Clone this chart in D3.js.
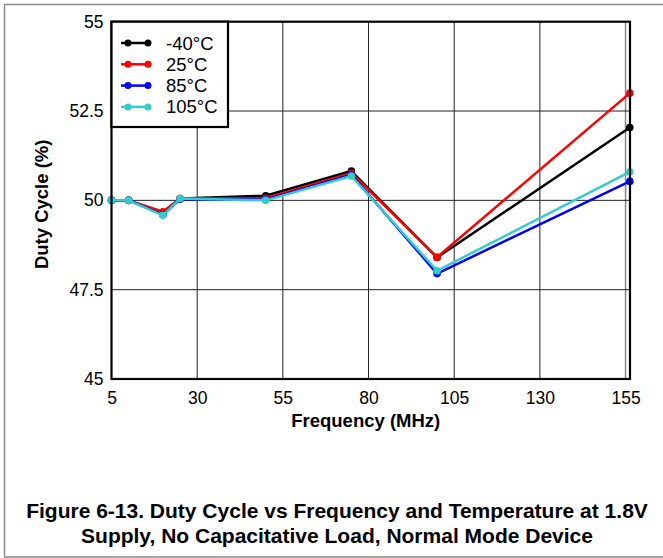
<!DOCTYPE html>
<html><head><meta charset="utf-8">
<script src="https://cdn.jsdelivr.net/npm/d3@7"></script>
<style>
html,body{margin:0;padding:0;background:#fff;}
svg{display:block;font-family:"Liberation Sans",Arial,sans-serif;}
</style></head>
<body>
<svg id="chart" width="663" height="558"></svg>
<script>
const frequencies = [5, 10, 20, 25, 50, 75, 100, 156.25];
const seriesNames = ["-40°C", "25°C", "85°C", "105°C"];
const seriesColors = ["#000000", "#ff0000", "#0000ff", "#33cccc"];
const valsM40 = [50.0, 50.0, 49.66, 50.05, 50.13, 50.82, 48.40, 52.04];
const vals25  = [50.0, 50.0, 49.68, 50.05, 50.06, 50.76, 48.41, 53.00];
const vals85  = [50.0, 50.0, 49.60, 50.03, 50.02, 50.72, 47.95, 50.53];
const vals105 = [50.0, 50.0, 49.58, 50.05, 50.00, 50.68, 48.03, 50.80];
const xTicks = [5, 30, 55, 80, 105, 130, 155];
const yTicks = [45, 47.5, 50, 52.5, 55];
const yTickLabels = ["45", "47.5", "50", "52.5", "55"];
const xTitle = "Frequency (MHz)";
const yTitle = "Duty Cycle (%)";
const captionLines = ["Figure 6-13. Duty Cycle vs Frequency and Temperature at 1.8V",
                      "Supply, No Capacitative Load, Normal Mode Device"];

const series = [valsM40, vals25, vals85, vals105];
const svg = d3.select("#chart");

// outer gray border
svg.append("path").attr("d", "M663,4.5 H4.5 V557 H663")
  .attr("fill","none").attr("stroke","#8a8a8a").attr("stroke-width",1.5);

const L = 111.5, R = 630, T = 21.7, B = 379;
const x = d3.scaleLinear().domain([5, 5 + (R - L) / 3.427]).range([L, R]);
const y = d3.scaleLinear().domain([45, 55]).range([B, T]);

// grid
const g = svg.append("g");
g.selectAll("line.vg").data(xTicks.slice(1)).enter().append("line")
  .attr("x1", d => x(d)).attr("x2", d => x(d)).attr("y1", T).attr("y2", B)
  .attr("stroke", (d,i) => i === xTicks.length - 2 ? "#888" : "#222")
  .attr("stroke-width", (d,i) => i === xTicks.length - 2 ? 1.5 : 1);
g.selectAll("line.hg").data(yTicks.slice(1, -1)).enter().append("line")
  .attr("x1", L).attr("x2", R).attr("y1", d => y(d)).attr("y2", d => y(d))
  .attr("stroke", "#222").attr("stroke-width", 1);

// axes labels via d3 axes (no lines)
const xAxis = d3.axisBottom(x).tickValues(xTicks).tickSize(0).tickPadding(13);
const xg = svg.append("g").attr("transform", `translate(0,${B})`).call(xAxis);
xg.select(".domain").remove();
xg.selectAll("text").attr("font-size", 17.5).attr("fill", "#000")
  .attr("font-family", "Liberation Sans, Arial, sans-serif");

const yAxis = d3.axisLeft(y).tickValues(yTicks).tickFormat((d,i) => yTickLabels[i]).tickSize(0).tickPadding(8);
const yg = svg.append("g").attr("transform", `translate(${L},0)`).call(yAxis);
yg.select(".domain").remove();
yg.selectAll("text").attr("font-size", 17.5).attr("fill", "#000")
  .attr("font-family", "Liberation Sans, Arial, sans-serif");

// series
const line = d3.line().x((d,i) => x(frequencies[i])).y(d => y(d));
const plot = svg.append("g");
series.forEach((vals, si) => {
  plot.append("path").datum(vals).attr("d", line)
    .attr("fill", "none").attr("stroke", seriesColors[si]).attr("stroke-width", 2.5)
    .attr("stroke-linejoin", "round");
  plot.selectAll(null).data(vals).enter().append("circle")
    .attr("cx", (d,i) => x(frequencies[i])).attr("cy", d => y(d)).attr("r", 3.8)
    .attr("fill", seriesColors[si]);
});

// frame
svg.append("rect").attr("x", L).attr("y", T).attr("width", R - L).attr("height", B - T)
  .attr("fill", "none").attr("stroke", "#000").attr("stroke-width", 2.2);

// legend
const lg = svg.append("g");
lg.append("rect").attr("x", L).attr("y", T).attr("width", 228 - L).attr("height", 127 - T)
  .attr("fill", "#fff").attr("stroke", "#000").attr("stroke-width", 2.2);
seriesNames.forEach((name, i) => {
  const yy = 43 + i * 21.3;
  lg.append("line").attr("x1", 121).attr("x2", 150).attr("y1", yy).attr("y2", yy)
    .attr("stroke", seriesColors[i]).attr("stroke-width", 2.5);
  [128, 148].forEach(cx => lg.append("circle").attr("cx", cx).attr("cy", yy).attr("r", 3.5).attr("fill", seriesColors[i]));
  lg.append("text").attr("x", 166).attr("y", yy + 6.5).attr("font-size", 18.5).text(name);
});

// titles
svg.append("text").attr("x", (L + R) / 2 - 5).attr("y", 427).attr("text-anchor", "middle")
  .attr("font-size", 18.5).attr("font-weight", "bold").text(xTitle);
svg.append("text").attr("transform", `translate(48,${(T + B) / 2 + 4}) rotate(-90)`)
  .attr("text-anchor", "middle").attr("font-size", 18.5).attr("font-weight", "bold").text(yTitle);

captionLines.forEach((t, i) => {
  svg.append("text").attr("x", 337).attr("y", 518 + i * 25).attr("text-anchor", "middle")
    .attr("font-size", 21).attr("font-weight", "bold").text(t);
});
</script>
</body></html>
